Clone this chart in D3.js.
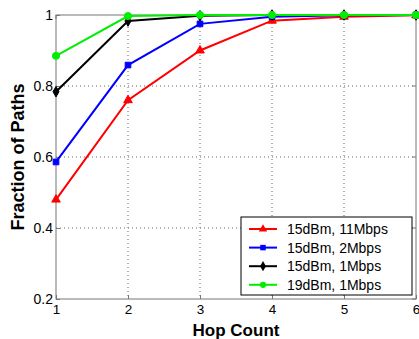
<!DOCTYPE html>
<html><head><meta charset="utf-8">
<script src="https://cdn.jsdelivr.net/npm/d3@7"></script>
<style>body{margin:0;background:#fff}svg{display:block}text{font-family:"Liberation Sans",Arial,sans-serif}</style>
</head><body><svg id="c" width="419" height="339"></svg>
<script>
const hops = [1,2,3,4,5,6];
const xTicks = [1,2,3,4,5,6];
const yTicks = [0.2,0.4,0.6,0.8,1];
const seriesNames = ["15dBm, 11Mbps","15dBm, 2Mbps","15dBm, 1Mbps","19dBm, 1Mbps"];
const red11 = [0.48,0.76,0.90,0.984,0.995,0.999];
const blue2 = [0.586,0.859,0.975,0.995,0.999,1.0];
const black1 = [0.784,0.983,0.998,1.0,1.0,1.0];
const green19 = [0.885,0.997,1.0,1.0,1.0,1.0];
const colors = ["#ff0000","#0000ff","#000000","#00ee00"];
const symbols = [d3.symbolTriangle,d3.symbolSquare,d3.symbolDiamond,d3.symbolCircle];
const allSeries = [red11,blue2,black1,green19];

const svg = d3.select("#c");
const L=56,R=416,T=15,B=299;
const x = d3.scaleLinear().domain([1,6]).range([L,R]);
const y = d3.scaleLinear().domain([0.2,1]).range([B,T]);

// grid
const g = svg.append("g");
xTicks.slice(1,-1).forEach(t=>g.append("line").attr("x1",x(t)).attr("x2",x(t)).attr("y1",T).attr("y2",B).attr("stroke","#666").attr("stroke-width",1).attr("stroke-dasharray","1,3"));
yTicks.slice(1,-1).forEach(t=>g.append("line").attr("x1",L).attr("x2",R).attr("y1",y(t)).attr("y2",y(t)).attr("stroke","#666").attr("stroke-width",1).attr("stroke-dasharray","1,3"));

// axes box
svg.append("rect").attr("x",L).attr("y",T).attr("width",R-L).attr("height",B-T).attr("fill","none").attr("stroke","#777").attr("stroke-width",1);
const xa = svg.append("g").attr("transform",`translate(0,${B})`).call(d3.axisBottom(x).tickValues(xTicks).tickFormat(d3.format("d")).tickSize(-4).tickPadding(5));
const ya = svg.append("g").attr("transform",`translate(${L},0)`).call(d3.axisLeft(y).tickValues(yTicks).tickFormat(d=>d===1?"1":d3.format(".1f")(d)).tickSize(-4).tickPadding(3));
[xa,ya].forEach(a=>{a.select(".domain").remove();a.selectAll("line").attr("stroke","#777");a.selectAll("text").attr("font-size",14).attr("fill","#000").attr("font-family","Liberation Sans, Arial, sans-serif");});
xa.selectAll("text").attr("font-size",13.5);
// right/top ticks
xTicks.forEach(t=>svg.append("line").attr("x1",x(t)).attr("x2",x(t)).attr("y1",T).attr("y2",T+4).attr("stroke","#777"));
yTicks.forEach(t=>svg.append("line").attr("x1",R).attr("x2",R-4).attr("y1",y(t)).attr("y2",y(t)).attr("stroke","#777"));

// lines
const line = d3.line().x((d,i)=>x(hops[i])).y(d=>y(d));
allSeries.forEach((s,k)=>{
  svg.append("path").datum(s).attr("d",line).attr("fill","none").attr("stroke",colors[k]).attr("stroke-width",2);
  svg.selectAll(null).data(s).enter().append("path")
    .attr("d",d3.symbol().type(symbols[k]).size(k===3?40:32))
    .attr("transform",(d,i)=>`translate(${x(hops[i])},${y(d)})`)
    .attr("fill",colors[k]).attr("stroke",colors[k]);
});

// legend
const lg = svg.append("g");
lg.append("rect").attr("x",241).attr("y",217).attr("width",171).attr("height",78).attr("fill","#fff").attr("stroke","#000").attr("stroke-width",1);
seriesNames.forEach((n,k)=>{
  const yy = 229 + k*18.6;
  lg.append("line").attr("x1",249).attr("x2",277).attr("y1",yy).attr("y2",yy).attr("stroke",colors[k]).attr("stroke-width",2);
  lg.append("path").attr("d",d3.symbol().type(symbols[k]).size(30)).attr("transform",`translate(263,${yy})`).attr("fill",colors[k]);
  lg.append("text").attr("x",287).attr("y",yy+5).attr("font-size",14).text(n);
});

// titles
svg.append("text").attr("x",236).attr("y",336).attr("text-anchor","middle").attr("font-size",17).attr("font-weight","bold").text("Hop Count");
svg.append("text").attr("transform","translate(24,157) rotate(-90)").attr("text-anchor","middle").attr("font-size",18).attr("font-weight","bold").text("Fraction of Paths");
</script></body></html>
